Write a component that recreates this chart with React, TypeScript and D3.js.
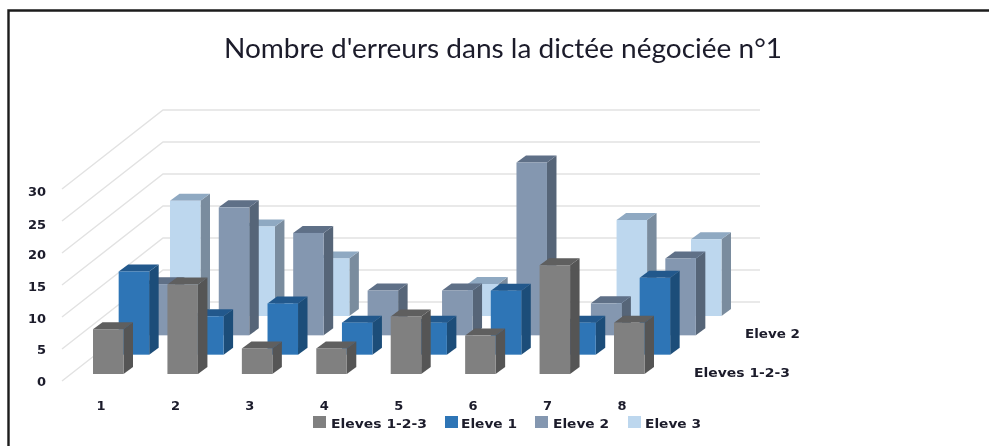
import React from "react";
import * as d3 from "d3";

const title = "Nombre d'erreurs dans la dictée négociée n°1";
const categories = ["1", "2", "3", "4", "5", "6", "7", "8"];
const seriesNames = ["Eleves 1-2-3", "Eleve 1", "Eleve 2", "Eleve 3"];
const eleves123 = [7, 14, 4, 4, 9, 6, 17, 8];
const eleve1 = [13, 6, 8, 5, 5, 10, 5, 12];
const eleve2 = [8, 20, 16, 7, 7, 27, 5, 12];
const eleve3 = [18, 14, 9, 0, 5, 0, 15, 12];
const yTicks = [0, 5, 10, 15, 20, 25, 30];
const depthLabels = ["Eleves 1-2-3", "Eleve 2"];
const seriesValues = [eleves123, eleve1, eleve2, eleve3];

const frontColors = ["#808080", "#2e75b6", "#8497b0", "#bdd7ee"];
const topColors = ["#5e5e5e", "#22598c", "#5f6f87", "#8fa9c2"];
const sideColors = ["#555555", "#1f4e79", "#566578", "#7a8c9e"];

const W = 989, H = 446;
const x = d3.scaleLinear().domain([0, 7]).range([93, 614]);
const depthX = d3.scaleLinear().domain([0, 3]).range([0, 77]);
const depthY = d3.scaleLinear().domain([0, 3]).range([374, 316]);
const unit = d3.scaleLinear().domain([0, 30]).range([0, 192]);
const axisY = d3.scaleLinear().domain([0, 30]).range([381, 189]);
const barW = 30.5, sideX = 9.5, sideY = 7;
const backDX = 101, backDY = 79, gridEnd = 760;

const labelFont = "'DejaVu Sans', sans-serif";
const poly = (p: number[][]) => p.map((q) => q.join(",")).join(" ");

const legendItems = [
  { swatch: 313, text: 331, len: 96 },
  { swatch: 445, text: 461, len: 56 },
  { swatch: 535, text: 553, len: 56 },
  { swatch: 628, text: 645, len: 56 },
];
const yLabelY = [381, 349, 318, 286, 254, 224, 191];

export default function App() {
  return (
    <svg width={W} height={H} viewBox={`0 0 ${W} ${H}`}
      style={{ position: "absolute", left: 0, top: 0, display: "block", background: "#fff" }}>
      <defs>
        <filter id="soft" x="-5%" y="-5%" width="110%" height="110%">
          <feGaussianBlur stdDeviation="0.6" />
        </filter>
        <filter id="softT" x="-5%" y="-30%" width="110%" height="160%">
          <feGaussianBlur stdDeviation="0.5" />
        </filter>
      </defs>
      <g filter="url(#soft)">
        <path d={`M8.5,${H} V10.5 H${W}`} fill="none" stroke="#1c1c1c" strokeWidth={2.4} />
        {yTicks.map((t) => {
          const y0 = axisY(t);
          return (
            <polyline key={t} fill="none" stroke="#e2e2e2" strokeWidth={1.4}
              points={poly([[62, y0], [62 + backDX, y0 - backDY], [gridEnd, y0 - backDY]])} />
          );
        })}
        {[3, 2, 1, 0].map((s) => (
          <g key={s}>
            {seriesValues[s].map((v, i) => {
              if (v <= 0) return null;
              const x0 = x(i) + depthX(s);
              const base = depthY(s);
              const top = base - unit(v);
              const x1 = x0 + barW;
              return (
                <g key={i}>
                  <polygon fill={sideColors[s]} points={poly([[x1, top], [x1 + sideX, top - sideY], [x1 + sideX, base - sideY], [x1, base]])} />
                  <polygon fill={topColors[s]} points={poly([[x0, top], [x0 + sideX, top - sideY], [x1 + sideX, top - sideY], [x1, top]])} />
                  <rect x={x0} y={top} width={barW} height={base - top} fill={frontColors[s]} />
                </g>
              );
            })}
          </g>
        ))}
        {legendItems.map((l, i) => (
          <rect key={i} x={l.swatch} y={416} width={13} height={12} fill={frontColors[i]} />
        ))}
      </g>
      <g filter="url(#softT)" fill="#1a1a2a">
        <text x={224} y={58} fontFamily="Lato, sans-serif" fontSize={26} textLength={558} lengthAdjust="spacingAndGlyphs">{title}</text>
        {yTicks.map((t, i) => (
          <text key={t} x={46} y={yLabelY[i] + 5} textAnchor="end" fontFamily={labelFont} fontWeight={700} fontSize={13}>{t}</text>
        ))}
        {categories.map((c, i) => (
          <text key={c} x={x(i) + 8} y={410} textAnchor="middle" fontFamily={labelFont} fontWeight={700} fontSize={13}>{c}</text>
        ))}
        {seriesNames.map((n, i) => (
          <text key={n} x={legendItems[i].text} y={428} fontFamily={labelFont} fontWeight={700} fontSize={13}
            textLength={legendItems[i].len} lengthAdjust="spacingAndGlyphs">{n}</text>
        ))}
        <text x={694} y={377} fontFamily={labelFont} fontWeight={700} fontSize={13} textLength={96} lengthAdjust="spacingAndGlyphs">{depthLabels[0]}</text>
        <text x={745} y={338} fontFamily={labelFont} fontWeight={700} fontSize={13} textLength={55} lengthAdjust="spacingAndGlyphs">{depthLabels[1]}</text>
      </g>
    </svg>
  );
}
